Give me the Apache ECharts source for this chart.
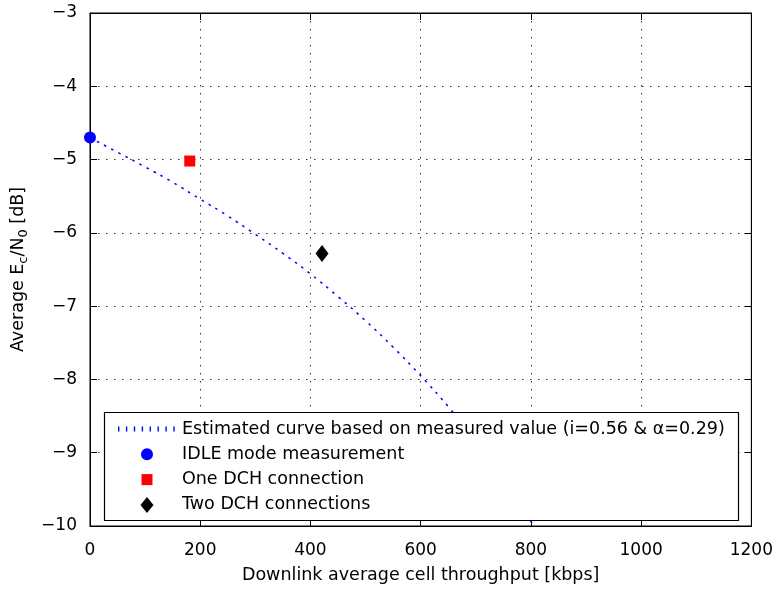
<!DOCTYPE html>
<html>
<head>
<meta charset="utf-8">
<script src="https://cdn.jsdelivr.net/npm/echarts@6/dist/echarts.min.js"></script>
<style>
  html, body { margin: 0; padding: 0; background: #fff; }
  #chart { width: 776px; height: 589px; }
</style>
</head>
<body>
<div id="chart"></div>
<script>
// estimated curve
const curveX = [0, 50, 100, 150, 200, 250, 300, 350, 400, 450, 500, 550, 600, 650, 700, 750, 805];
const curveY = [-4.70, -4.90, -5.10, -5.31, -5.54, -5.77, -6.02, -6.28, -6.56, -6.87, -7.20, -7.56, -7.95, -8.37, -8.83, -9.36, -10.0];

const idlePoint = [0, -4.7];
const oneDchPoint = [181, -5.02];
const twoDchPoint = [421, -6.28];

const legendNames = [
  'Estimated curve based on measured value (i=0.56 & \u03b1=0.29)',
  'IDLE mode measurement',
  'One DCH connection',
  'Two DCH connections'
];

const font = 'DejaVu Sans, Liberation Sans, Arial, sans-serif';
const minus = (v) => String(v).replace('-', '\u2212');

// legend icons, 60x16 box (first two moves fix the bounding box)
const box = 'M0,0M60,16';
let dots = box;
for (let i = 0; i < 8; i++) dots += 'M' + (1 + i * 7.9).toFixed(1) + ',5.5h1.4v5h-1.4z';
const iconCircle = 'path://' + box + 'M36,8A6,6,0,1,1,24,8A6,6,0,1,1,36,8z';
const iconSquare = 'path://' + box + 'M24.5,2.5h11v11h-11z';
const iconDiamond = 'path://' + box + 'M30,0L36.5,8L30,16L23.5,8z';

const tick = { inside: true, length: 7, lineStyle: { color: '#000' } };
const grid = { color: '#333', type: [1.5, 6.5], width: 1 };

const chart = echarts.init(document.getElementById('chart'));

chart.setOption({
  animation: false,
  backgroundColor: '#fff',
  textStyle: { fontFamily: font },
  grid: {
    left: 90, right: 23, top: 13, bottom: 58,
    show: true, borderColor: '#000', borderWidth: 1
  },
  xAxis: [{
    type: 'value',
    min: 0, max: 1200, interval: 200,
    name: 'Downlink average cell throughput [kbps]',
    nameLocation: 'middle',
    nameGap: 40,
    nameTextStyle: { fontSize: 17.5, color: '#000', fontFamily: font },
    axisLine: { onZero: false, lineStyle: { color: '#000', width: 1 } },
    axisTick: tick,
    axisLabel: { fontSize: 17, color: '#000', margin: 16, fontFamily: font, formatter: minus },
    splitLine: { show: true, lineStyle: grid }
  }, {
    type: 'value', position: 'top',
    min: 0, max: 1200, interval: 200,
    axisLine: { onZero: false, lineStyle: { color: '#000' } },
    axisTick: tick, axisLabel: { show: false }, splitLine: { show: false }
  }],
  yAxis: [{
    type: 'value',
    min: -10, max: -3, interval: 1,
    name: '{n|Average E}{s|c}{n|/N}{s|0}{n| [dB]}',
    nameLocation: 'middle',
    nameRotate: 90,
    nameGap: 49,
    nameTextStyle: {
      color: '#000', fontFamily: font, fontSize: 17.5,
      rich: {
        n: { fontSize: 17.5, fontFamily: font, color: '#000' },
        s: { fontSize: 13, fontFamily: font, color: '#000', padding: [11, 0, 0, 0] }
      }
    },
    axisLine: { onZero: false, lineStyle: { color: '#000', width: 1 } },
    axisTick: tick,
    axisLabel: { fontSize: 17, color: '#000', margin: 13, fontFamily: font, formatter: minus },
    splitLine: { show: true, lineStyle: grid }
  }, {
    type: 'value', position: 'right',
    min: -10, max: -3, interval: 1,
    axisLine: { onZero: false, lineStyle: { color: '#000' } },
    axisTick: tick, axisLabel: { show: false }, splitLine: { show: false }
  }],
  graphic: [{
    type: 'rect',
    z: 10,
    shape: { x: 104.5, y: 412.5, width: 634, height: 108 },
    style: { fill: '#fff', stroke: '#000', lineWidth: 1.2 }
  }],
  legend: {
    z: 11,
    left: 117, top: 412,
    orient: 'vertical',
    padding: [8, 0, 0, 0],
    itemGap: 7.3,
    itemWidth: 60, itemHeight: 16,
    symbolKeepAspect: true,
    textStyle: { fontSize: 17.5, lineHeight: 18, color: '#000', fontFamily: font },
    data: [
      { name: legendNames[0], icon: 'path://' + dots, itemStyle: { color: '#0000ff' } },
      { name: legendNames[1], icon: iconCircle },
      { name: legendNames[2], icon: iconSquare },
      { name: legendNames[3], icon: iconDiamond }
    ]
  },
  series: [
    {
      name: legendNames[0],
      type: 'line',
      data: curveX.map((x, i) => [x, curveY[i]]),
      smooth: true,
      showSymbol: false,
      symbol: 'none',
      lineStyle: { color: '#0000ff', width: 1.5, type: [2.5, 5.5] },
      itemStyle: { color: '#0000ff' }
    },
    {
      name: legendNames[1],
      type: 'scatter',
      data: [idlePoint],
      symbol: 'circle', symbolSize: 12,
      itemStyle: { color: '#0000ff', opacity: 1 },
      clip: false
    },
    {
      name: legendNames[2],
      type: 'scatter',
      data: [oneDchPoint],
      symbol: 'rect', symbolSize: 11,
      itemStyle: { color: '#ff0000', opacity: 1 }
    },
    {
      name: legendNames[3],
      type: 'scatter',
      data: [twoDchPoint],
      symbol: 'diamond', symbolSize: [13, 17],
      itemStyle: { color: '#000', opacity: 1 }
    }
  ]
});
</script>
</body>
</html>
